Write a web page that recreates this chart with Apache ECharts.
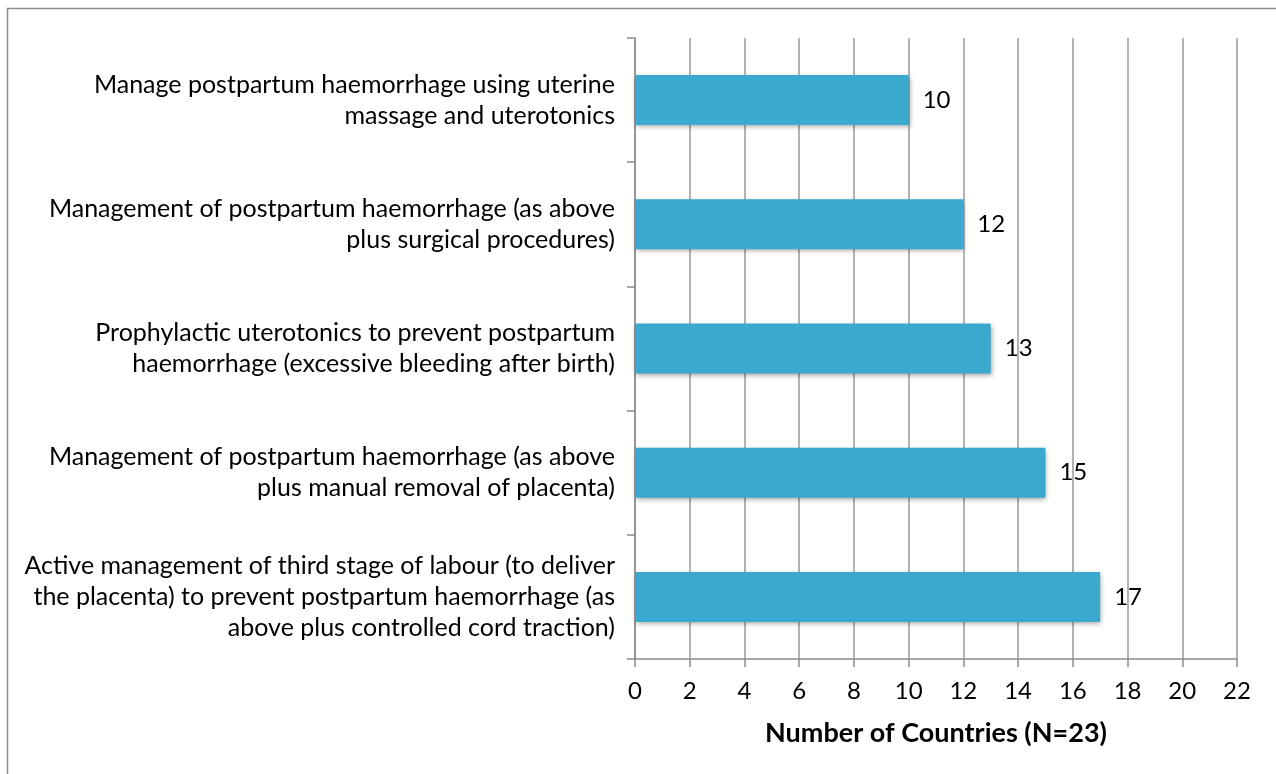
<!DOCTYPE html>
<html>
<head>
<meta charset="utf-8">
<script src="https://cdn.jsdelivr.net/npm/echarts@6/dist/echarts.min.js"></script>
<style>
  html, body { margin: 0; padding: 0; background: #fff; }
  #chart { width: 1276px; height: 774px; }
</style>
</head>
<body>
<div id="chart"></div>
<script>
// categories from top to bottom
const categories = [
  'Manage postpartum haemorrhage using uterine\nmassage and uterotonics',
  'Management of postpartum haemorrhage (as above\nplus surgical procedures)',
  'Prophylactic uterotonics to prevent postpartum\nhaemorrhage (excessive bleeding after birth)',
  'Management of postpartum haemorrhage (as above\nplus manual removal of placenta)',
  'Active management of third stage of labour (to deliver\nthe placenta) to prevent postpartum haemorrhage (as\nabove plus controlled cord traction)'
];
const countries = [10, 12, 13, 15, 17];
const axisTitle = 'Number of Countries (N=23)';

const font = 'Lato, "Open Sans", sans-serif';

const chart = echarts.init(document.getElementById('chart'));
chart.setOption({
  backgroundColor: '#fff',
  animation: false,
  graphic: [{
    type: 'rect',
    shape: { x: 7.5, y: 8.5, width: 1300, height: 800 },
    style: { fill: 'none', stroke: '#8c8c8c', lineWidth: 1.5 },
    z: -1
  }],
  grid: { left: 635, right: 39, top: 38, bottom: 115 },
  xAxis: {
    type: 'value',
    min: 0,
    max: 22,
    interval: 2,
    name: axisTitle,
    nameLocation: 'middle',
    nameGap: 61,
    nameTextStyle: { color: '#000', fontSize: 27, fontWeight: 'bold', fontFamily: font },
    axisLine: { show: true, lineStyle: { color: '#8c8c8c', width: 1.5 } },
    axisTick: { show: true, length: 8, lineStyle: { color: '#8c8c8c', width: 1.5 } },
    axisLabel: { color: '#000', fontSize: 24, fontFamily: font, margin: 20 },
    splitLine: { show: true, lineStyle: { color: '#9a9a9a', width: 1.5 } }
  },
  yAxis: {
    type: 'category',
    inverse: true,
    data: categories,
    axisLine: { show: true, lineStyle: { color: '#8c8c8c', width: 1.5 } },
    axisTick: { show: true, length: 8, lineStyle: { color: '#8c8c8c', width: 1.5 } },
    axisLabel: {
      color: '#000', fontSize: 25, fontFamily: font, margin: 20,
      lineHeight: 31, align: 'right'
    }
  },
  series: [{
    type: 'bar',
    data: countries,
    barWidth: 50,
    itemStyle: {
      color: '#3ba8cd',
      shadowColor: 'rgba(0,0,0,0.35)',
      shadowBlur: 5,
      shadowOffsetX: 1,
      shadowOffsetY: 2
    },
    label: {
      show: true,
      position: 'right',
      distance: 14,
      color: '#000',
      fontSize: 24,
      fontFamily: font
    }
  }]
});
</script>
</body>
</html>
